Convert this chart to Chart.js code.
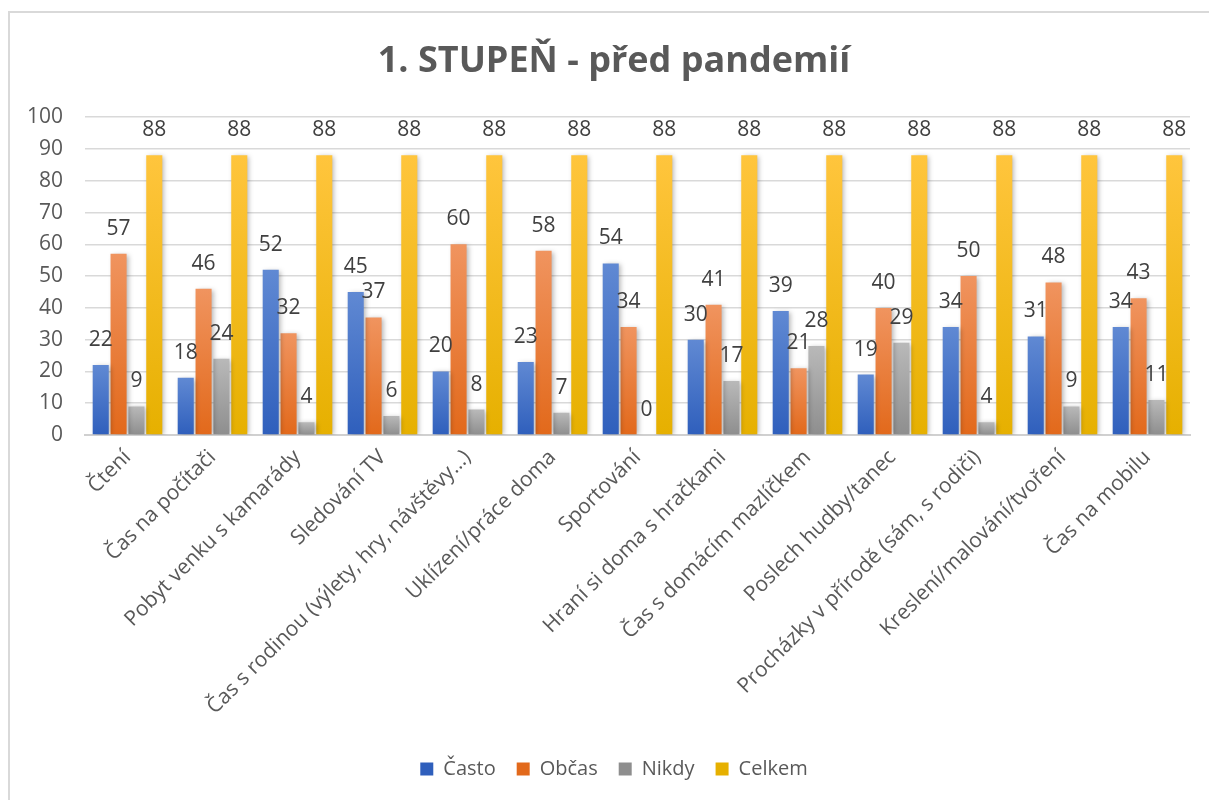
<!DOCTYPE html>
<html lang="cs">
<head>
    <meta charset="UTF-8">
    <title>1. STUPEŇ - před pandemií</title>
    <style>
        body {
            margin: 0;
            background: #fff;
            overflow: hidden;
            font-family: "Open Sans", sans-serif;
        }

        .ramecek {
            position: absolute;
            left: 8px;
            top: 11px;
            width: 1240px;
            height: 840px;
            border: 2px solid #d9d9d9;
        }

        #graf {
            position: absolute;
            left: 0;
            top: 0;
        }
    </style>
</head>
<body>
    <div class="ramecek"></div>
    <canvas id="graf" width="1209" height="800"></canvas>
    <script src="https://cdn.jsdelivr.net/npm/chart.js"></script>
    <script>
        // kategorie a hodnoty
        const kategorie = ['Čtení', 'Čas na počítači', 'Pobyt venku s kamarády', 'Sledování TV',
            'Čas s rodinou (výlety, hry, návštěvy…)', 'Uklízení/práce doma', 'Sportování',
            'Hraní si doma s hračkami', 'Čas s domácím mazlíčkem', 'Poslech hudby/tanec',
            'Procházky v přírodě (sám, s rodiči)', 'Kreslení/malování/tvoření', 'Čas na mobilu'];
        const casto = [22, 18, 52, 45, 20, 23, 54, 30, 39, 19, 34, 31, 34];
        const obcas = [57, 46, 32, 37, 60, 58, 34, 41, 21, 40, 50, 48, 43];
        const nikdy = [9, 24, 4, 6, 8, 7, 0, 17, 28, 29, 4, 9, 11];
        const celkem = [88, 88, 88, 88, 88, 88, 88, 88, 88, 88, 88, 88, 88];

        const pismo = '"Open Sans", sans-serif';

        // přechod pro každý sloupec zvlášť (světlý nahoře, tmavší dole)
        function prechod(horni, dolni, plna) {
            return function (ctx) {
                const chart = ctx.chart;
                if (ctx.raw === undefined || !chart.chartArea || !chart.scales.y) return plna;
                const y = chart.scales.y;
                const top = y.getPixelForValue(ctx.raw);
                const bottom = y.getPixelForValue(0);
                if (bottom - top < 1) return plna;
                const g = chart.ctx.createLinearGradient(0, top, 0, bottom);
                g.addColorStop(0, horni);
                g.addColorStop(1, dolni);
                return g;
            };
        }

        // titulek a legenda jsou v Excelu vycentrované na celý rámeček, ne na graf
        const posun = {
            id: 'posun',
            afterLayout(chart) {
                [chart.titleBlock, chart.legend].forEach(b => {
                    b.left += 19;
                    b.right += 19;
                });
            }
        };

        // stín pod sloupci
        const stin = {
            id: 'stin',
            beforeDatasetsDraw(chart) {
                const c = chart.ctx;
                c.save();
                c.shadowColor = 'rgba(0, 0, 0, 0.3)';
                c.shadowBlur = 5;
                c.shadowOffsetX = 2;
                c.shadowOffsetY = 1;
            },
            afterDatasetsDraw(chart) {
                chart.ctx.restore();
            }
        };

        // popisky hodnot nad sloupci
        const popisky = {
            id: 'popisky',
            afterDatasetsDraw(chart) {
                const c = chart.ctx;
                c.save();
                c.font = '21px ' + pismo;
                c.fillStyle = '#404040';
                c.textAlign = 'center';
                c.textBaseline = 'middle';
                chart.data.datasets.forEach((ds, i) => {
                    chart.getDatasetMeta(i).data.forEach((bar, j) => {
                        c.fillText(ds.data[j], bar.x, bar.y - 25);
                    });
                });
                c.restore();
            }
        };

        new Chart(document.getElementById('graf'), {
            type: 'bar',
            data: {
                labels: kategorie,
                datasets: [{
                    label: 'Často',
                    data: casto,
                    backgroundColor: prechod('#6089d3', '#2f5fbc', '#3a68c6')
                }, {
                    label: 'Občas',
                    data: obcas,
                    backgroundColor: prechod('#f0945f', '#e2691b', '#ed7d31')
                }, {
                    label: 'Nikdy',
                    data: nikdy,
                    backgroundColor: prechod('#b9b9b9', '#8e8e8e', '#a5a5a5')
                }, {
                    label: 'Celkem',
                    data: celkem,
                    backgroundColor: prechod('#ffc53d', '#e6b000', '#ffc000')
                }]
            },
            options: {
                responsive: false,
                animation: false,
                datasets: {
                    bar: {
                        categoryPercentage: 0.84,
                        barPercentage: 0.9
                    }
                },
                layout: {
                    padding: { left: 0, right: 19, top: 0, bottom: 11 }
                },
                plugins: {
                    title: {
                        display: true,
                        text: '1. STUPEŇ - před pandemií',
                        color: '#595959',
                        font: { family: pismo, size: 36, weight: 'bold' },
                        padding: { top: 40, bottom: 34 }
                    },
                    legend: {
                        position: 'bottom',
                        labels: {
                            boxWidth: 13,
                            boxHeight: 13,
                            padding: 21,
                            color: '#595959',
                            font: { family: pismo, size: 20 }
                        }
                    },
                    tooltip: { enabled: false }
                },
                scales: {
                    x: {
                        grid: { display: false },
                        border: { color: '#d0d0d0', width: 2 },
                        ticks: {
                            minRotation: 45,
                            maxRotation: 45,
                            autoSkip: false,
                            padding: 2,
                            color: '#595959',
                            font: { family: pismo, size: 21 }
                        },
                        afterFit(s) { s.height = 303; }
                    },
                    y: {
                        min: 0,
                        max: 100,
                        grid: { color: '#d9d9d9', lineWidth: 1.5, drawTicks: false },
                        border: { display: false },
                        ticks: {
                            stepSize: 10,
                            padding: 22,
                            color: '#595959',
                            font: { family: pismo, size: 21 }
                        },
                        afterFit(s) { s.width = 85; }
                    }
                }
            },
            plugins: [posun, stin, popisky]
        });
    </script>
</body>
</html>
